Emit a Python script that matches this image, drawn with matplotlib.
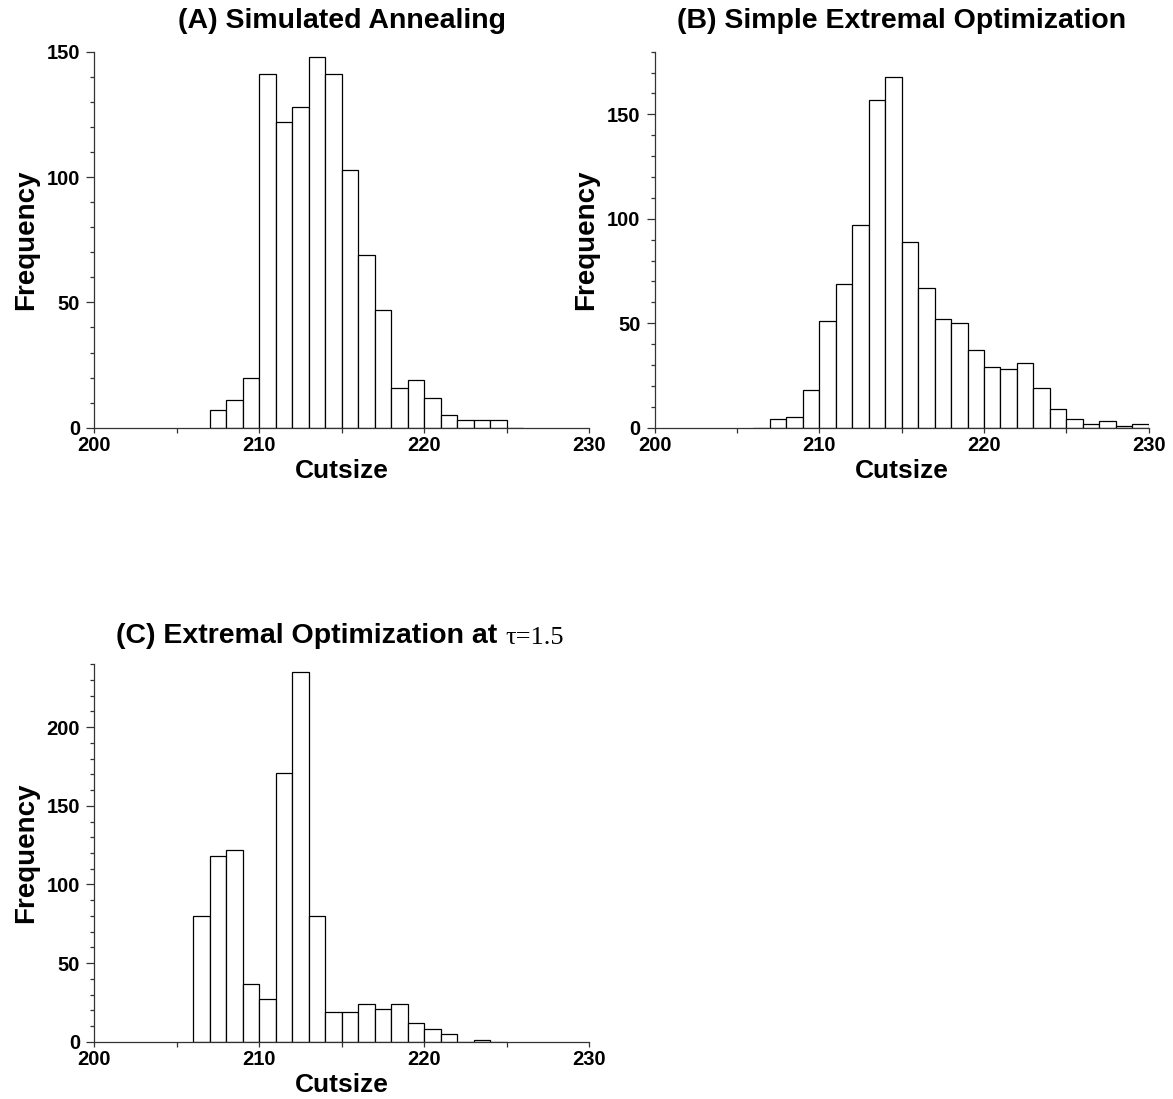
import matplotlib
matplotlib.use("Agg")
import matplotlib.pyplot as plt
from matplotlib.ticker import MultipleLocator

# ---- data ----
a_start = 207
a_counts = [7, 11, 20, 141, 122, 128, 148, 141, 103, 69, 47, 16, 19, 12, 5, 3, 3, 3, 0]
b_start = 206
b_counts = [0, 4, 5, 18, 51, 69, 97, 157, 168, 89, 67, 52, 50, 37, 29, 28, 31, 19, 9, 4, 2, 3, 1, 2]
c_start = 206
c_counts = [80, 118, 122, 37, 27, 171, 235, 80, 19, 19, 24, 21, 24, 12, 8, 5, 0, 1, 0]

titles = ["(A) Simulated Annealing", "(B) Simple Extremal Optimization",
          "(C) Extremal Optimization at "]
tau_text = "\u03c4=1.5"
xlabel = "Cutsize"
ylabel = "Frequency"
ylims = [150, 180, 240]

plt.rcParams['font.family'] = ['Liberation Sans', 'DejaVu Sans']
plt.rcParams['font.weight'] = 'bold'

W, H = 1173, 1099
fig = plt.figure(figsize=(W / 100, H / 100), dpi=100)

def frac(x0, x1, ytop, ybot):
    return [x0 / W, 1 - ybot / H, (x1 - x0) / W, (ybot - ytop) / H]

axA = fig.add_axes(frac(94.3, 589.3, 51.7, 427.7))
axB = fig.add_axes(frac(654.7, 1148.7, 51.7, 427.7))
axC = fig.add_axes(frac(94.3, 589.3, 664.3, 1041.7))

TICK_FS = 14.5

def style(ax, start, counts, ytop):
    lefts = [start + i for i in range(len(counts))]
    ax.bar(lefts, counts, width=1, align='edge', facecolor='white',
           edgecolor='black', linewidth=0.9, zorder=2)
    ax.set_xlim(200, 230)
    ax.set_ylim(0, ytop)
    for s in ['top', 'right']:
        ax.spines[s].set_visible(False)
    for s in ['left', 'bottom']:
        ax.spines[s].set_linewidth(0.9)
        ax.spines[s].set_color('#333333')
    ax.xaxis.set_major_locator(MultipleLocator(10))
    ax.xaxis.set_minor_locator(MultipleLocator(5))
    ax.yaxis.set_major_locator(MultipleLocator(50))
    ax.yaxis.set_minor_locator(MultipleLocator(10))
    ax.tick_params(axis='both', which='both', direction='out', color='#333333', width=0.9)
    ax.tick_params(axis='x', which='major', length=3.8, pad=2.2, labelsize=TICK_FS)
    ax.tick_params(axis='x', which='minor', length=3.8)
    ax.tick_params(axis='y', which='major', length=5.8, pad=4.5, labelsize=TICK_FS)
    ax.tick_params(axis='y', which='minor', length=3.1)
    for lab in ax.get_xticklabels() + ax.get_yticklabels():
        lab.set_fontweight('bold')
    ax.set_xlabel(xlabel, fontsize=19, fontweight='bold', labelpad=2.5)
    ax.set_ylabel(ylabel, fontsize=20, fontweight='bold')
    ax.yaxis.set_label_coords(-0.112, 0.5)

style(axA, a_start, a_counts, ylims[0])
style(axB, b_start, b_counts, ylims[1])
style(axC, c_start, c_counts, ylims[2])

axA.set_title(titles[0], fontsize=20.5, fontweight='bold', pad=17)
axB.set_title(titles[1], fontsize=20.5, fontweight='bold', pad=17)

t1 = fig.text(116 / W, 1 - 643 / H, titles[2], fontsize=20.5, fontweight='bold',
              ha='left', va='baseline')
fig.canvas.draw()
axC.annotate(tau_text, xy=(1, 0), xycoords=t1, ha='left', va='bottom',
             fontsize=19, fontweight='normal', family=['Liberation Serif', 'DejaVu Serif'])

fig.savefig("out.png", dpi=100)
